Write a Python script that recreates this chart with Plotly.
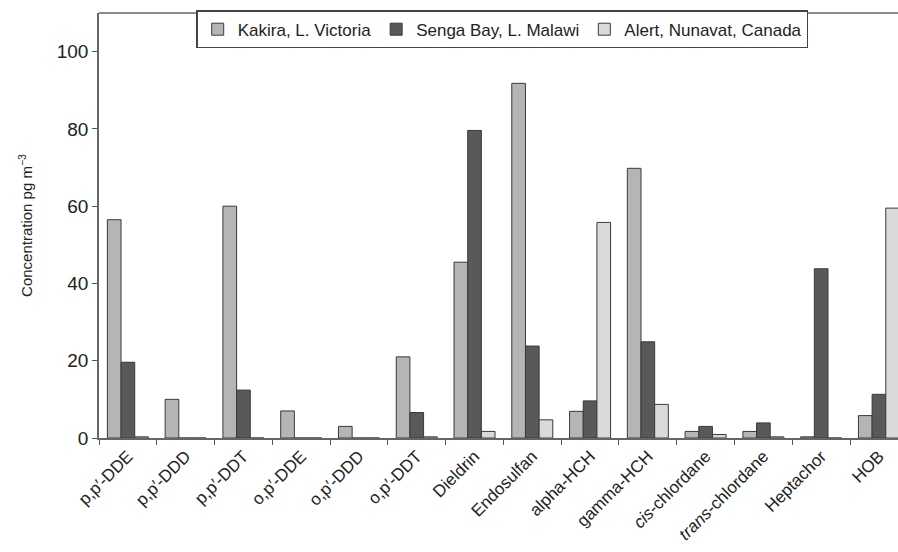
import plotly.graph_objects as go

categories = ["p,p\u2032-DDE", "p,p\u2032-DDD", "p,p\u2032-DDT", "o,p\u2032-DDE", "o,p\u2032-DDD",
              "o,p\u2032-DDT", "Dieldrin", "Endosulfan", "alpha-HCH", "gamma-HCH",
              "<i>cis</i>-chlordane", "<i>trans</i>-chlordane", "Heptachor", "HOB"]
kakira = [56.5, 10.0, 60.0, 7.0, 3.0, 21.0, 45.5, 91.8, 6.9, 69.8, 1.7, 1.7, 0.3, 5.8]
senga = [19.6, 0.0, 12.4, 0.0, 0.0, 6.6, 79.6, 23.8, 9.6, 24.9, 3.0, 3.9, 43.8, 11.3]
alert = [0.3, 0.0, 0.0, 0.0, 0.0, 0.3, 1.7, 4.7, 55.8, 8.7, 0.9, 0.3, 0.0, 59.5]
series_names = ["Kakira, L. Victoria", "Senga Bay, L. Malawi", "Alert, Nunavat, Canada"]
series_colors = ["#b5b5b5", "#595959", "#dadada"]

fig = go.Figure()
for name, vals, col in zip(series_names, [kakira, senga, alert], series_colors):
    fig.add_trace(go.Bar(x=categories, y=vals, name=name,
                         marker=dict(color=col, line=dict(color="#3a3a3a", width=1))))

fig.update_layout(
    width=898, height=552,
    margin=dict(l=99, r=0, t=13, b=114),
    paper_bgcolor="white", plot_bgcolor="white",
    barmode="group", bargap=0.29, bargroupgap=0,
    font=dict(family="Liberation Sans, Arial, sans-serif", color="#222"),
    showlegend=True,
    legend=dict(orientation="h", x=0.505, xanchor="center", y=1.006, yanchor="top",
                bgcolor="white", bordercolor="#444", borderwidth=1.2,
                font=dict(size=17), itemwidth=30, traceorder="normal"),
    xaxis=dict(range=[-0.5, 13.33], tickson="boundaries", ticks="outside", ticklen=5,
               tickcolor="#555", showline=True, linecolor="#666", linewidth=1.5,
               tickangle=-45, tickfont=dict(size=17), showgrid=False, mirror=False),
    yaxis=dict(range=[0, 110], tickvals=[0, 20, 40, 60, 80, 100], ticks="outside", ticklen=5,
               tickcolor="#555", showline=True, linecolor="#666", linewidth=1.5,
               tickfont=dict(size=19), showgrid=False, zeroline=False,
               title=dict(text="Concentration pg m<sup>\u22123</sup>", font=dict(size=15), standoff=20)),
    shapes=[dict(type="line", xref="paper", yref="paper", x0=0, x1=1, y0=1, y1=1,
                 line=dict(color="#666", width=1.5))],
)

fig.write_html("out.html", config={"displayModeBar": False},
               post_script="document.body.style.margin='0';document.body.style.overflow='hidden';")
